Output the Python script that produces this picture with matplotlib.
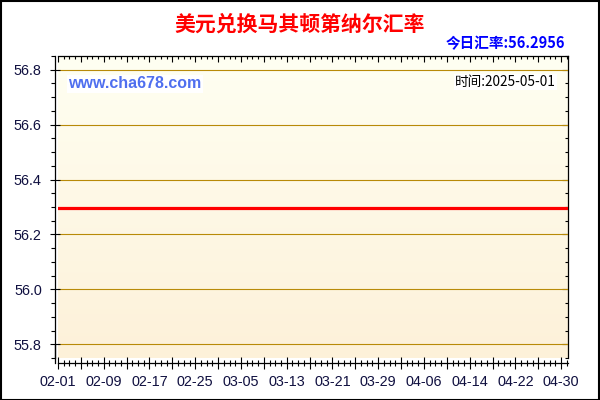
import numpy as np
import pandas as pd
import matplotlib
matplotlib.use("Agg")
import matplotlib.pyplot as plt
import matplotlib.dates as mdates
from matplotlib.colors import LinearSegmentedColormap
from matplotlib.patches import Rectangle
from matplotlib.lines import Line2D

plt.rcParams["font.family"] = ["Liberation Sans", "DejaVu Sans"]

# data: USD -> MKD, flat at the current rate
days = pd.date_range("2025-02-01", "2025-05-01", freq="D")
rates = [56.2956] * len(days)
today_rate = "56.2956"
today = "2025-05-01"
title = "美元兑换马其顿第纳尔汇率"

W, H = 600, 400
fig = plt.figure(figsize=(6, 4), dpi=100)
fig.patch.set_facecolor("white")

# plot area in pixels
L, R, T, B = 58, 568, 56, 358
ax = fig.add_axes([L / W, 1 - B / H, (R - L) / W, (B - T) / H])

x0 = mdates.date2num(days[0])
xlim = (x0, x0 + 89.2)
ylim = (55.75, 56.85)

# background gradient, light at the top
cmap = LinearSegmentedColormap.from_list("bg", ["#FDF1D9", "#FFFFF2"])
grad = np.linspace(0, 1, 256).reshape(-1, 1)
ax.imshow(grad, cmap=cmap, aspect="auto", origin="lower",
          extent=(xlim[0], xlim[1], ylim[0], ylim[1]), zorder=0)

ax.plot(days, rates, color="#FF0000", lw=2.3, zorder=3)

ax.set_xlim(xlim)
ax.set_ylim(ylim)

ax.yaxis.set_major_locator(plt.MultipleLocator(0.2))
ax.yaxis.set_minor_locator(plt.MultipleLocator(0.05))
ax.yaxis.set_major_formatter(plt.FormatStrFormatter("%.1f"))
ax.grid(axis="y", which="major", color="#B88A08", lw=0.8, zorder=1)

major_x = [x0 + d for d in range(0, 89, 4)]
ax.set_xticks(major_x)
ax.set_xticklabels([mdates.num2date(v).strftime("%m-%d") if i % 2 == 0 else ""
                    for i, v in enumerate(major_x)])
ax.xaxis.set_minor_locator(plt.FixedLocator([x0 + d for d in range(0, 90)]))

ax.tick_params(labelsize=10.4, labelcolor="#101040", labelfontfamily="Liberation Sans")

ax.spines["left"].set_position(("outward", 2.2))
ax.spines["bottom"].set_position(("outward", 3.6))
for s in ax.spines.values():
    s.set_linewidth(0.9)
ax.spines["top"].set_visible(False)
ax.spines["right"].set_visible(False)

ax.tick_params(axis="y", which="major", direction="inout", length=7, width=0.8, pad=6)
ax.tick_params(axis="y", which="minor", direction="out", length=3, width=0.8)
ax.tick_params(axis="x", which="major", direction="inout", length=8, width=0.8, pad=5)
ax.tick_params(axis="x", which="minor", direction="inout", length=4.5, width=0.8)

# top and right axes with inward ticks
top = ax.secondary_xaxis("top")
top.set_xticks(major_x)
top.set_xticklabels([])
top.xaxis.set_minor_locator(plt.FixedLocator([x0 + d for d in range(0, 90)]))
top.tick_params(which="major", direction="in", length=4, width=0.8)
top.tick_params(which="minor", direction="in", length=2.2, width=0.8)
top.spines["top"].set_linewidth(0.9)

right = ax.secondary_yaxis("right")
right.yaxis.set_major_locator(plt.MultipleLocator(0.2))
right.yaxis.set_minor_locator(plt.MultipleLocator(0.05))
right.set_yticklabels([])
right.tick_params(which="major", direction="in", length=4, width=0.8)
right.tick_params(which="minor", direction="in", length=2.2, width=0.8)
right.spines["right"].set_linewidth(0.9)

# corner joining the offset left axis to the offset bottom axis
fig.add_artist(Line2D([55 / W, 55 / W], [1 - 345 / H, 1 - 363 / H],
                      color="black", lw=0.9))

cjk = ["Noto Sans CJK SC", "DejaVu Sans"]
fig.text(300 / W, 1 - 24 / H, title, ha="center", va="center",
         color="#FF0000", fontsize=15, fontweight="bold", family=cjk)
fig.text(565 / W, 1 - 43 / H, "今日汇率:" + today_rate, ha="right", va="center",
         color="#0000FF", fontsize=10.5, fontweight="bold", family=cjk)
ax.text(68 / W, 1 - 84 / H, "www.cha678.com", transform=fig.transFigure,
        ha="left", va="center", color="#4F6FEF", fontsize=11.5, fontweight="bold",
        family="Liberation Sans", zorder=5,
        bbox=dict(facecolor="white", edgecolor="none", pad=1))
ax.text(556 / W, 1 - 82 / H, "时间:" + today, transform=fig.transFigure,
        ha="right", va="center", color="black", fontsize=9.8, family=cjk, zorder=5,
        bbox=dict(facecolor="white", edgecolor="none", pad=1))

# frame around the whole image
fig.add_artist(Rectangle((0.5 / W, 0.5 / H), 1 - 1.5 / W, 1 - 1.5 / H,
                         transform=fig.transFigure, fill=False,
                         edgecolor="black", lw=1.5))

fig.savefig("out.png", dpi=100)
